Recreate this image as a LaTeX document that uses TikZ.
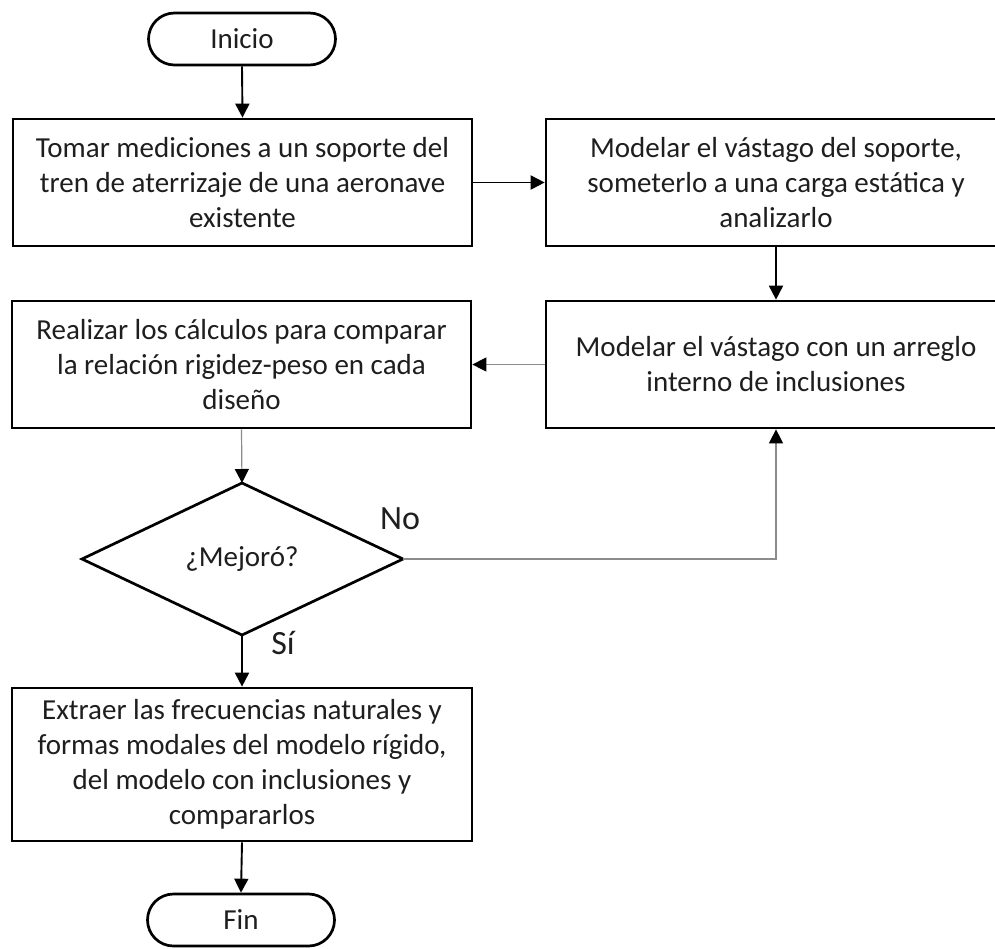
\documentclass[tikz,border=0pt]{standalone}
\usepackage{fontspec}
\setmainfont{Carlito}
\usetikzlibrary{arrows.meta}
\definecolor{txt}{HTML}{1E1E1E}
\definecolor{thin}{HTML}{8C8C8C}
\tikzset{
  base/.style={draw=black, line width=2.7pt, align=center, inner sep=0pt,
    font=\fontsize{29}{35}\selectfont, text=txt},
  procbox/.style={base, rectangle},
  term/.style={base, rectangle, rounded corners=26pt, minimum width=187pt, minimum height=52pt},
  decision/.style={base, fill=white},
  arr/.style={draw=black, line width=1.9pt, -{Triangle[length=14pt,width=14pt]}},
  garr/.style={draw=thin, line width=1.2pt, -{Triangle[length=14pt,width=14pt,color=black]}},
  lbl/.style={font=\fontsize{34}{36}\selectfont, text=txt, inner sep=0pt}
}
\begin{document}
\begin{tikzpicture}[x=1pt,y=-1pt]
\useasboundingbox[fill=white] (0,0) rectangle (995,948);
\clip (0,0) rectangle (995,948);
\node[term] (inicio) at (242,39) {Inicio};
\node[procbox, minimum width=459pt, minimum height=127pt] (b1) at (242.5,182.5)
  {Tomar mediciones a un soporte del\\tren de aterrizaje de una aeronave\\existente};
\node[procbox, minimum width=460pt, minimum height=127pt] (b2) at (776,182.5)
  {Modelar el vástago del soporte,\\someterlo a una carga estática y\\analizarlo};
\node[procbox, minimum width=460pt, minimum height=127pt] (b4) at (776,364.5)
  {Modelar el vástago con un arreglo\\interno de inclusiones};
\node[procbox, minimum width=459pt, minimum height=127pt] (b3) at (241.5,364.5)
  {Realizar los cálculos para comparar\\la relación rigidez-peso en cada\\diseño};
\coordinate (dc) at (242,559);
\path[decision] (242,483) coordinate (dtop) -- (403,559) coordinate (dright)
  -- (242,635) coordinate (dbot) -- (82,559) coordinate (dleft) -- cycle;
\node[base, draw=none] (d) at (dc) {¿Mejoró?};
\node[procbox, minimum width=460pt, minimum height=153pt] (b5) at (242,764.5)
  {Extraer las frecuencias naturales y\\formas modales del modelo rígido,\\del modelo con inclusiones y\\compararlos};
\node[term] (fin) at (241,920) {Fin};
\node[lbl] (no) at (400,519) {No};
\node[lbl] (si) at (283,643) {Sí};
\draw[arr] (inicio.south) -- (b1.north);
\draw[arr] (b1.east) -- (b2.west);
\draw[arr] (b2.south) -- (b4.north);
\draw[garr] (b4.west) -- (b3.east);
\draw[garr] (b3.south) -- (dtop);
\draw[garr] (dright) -| (b4.south);
\draw[arr] (dbot) -- (b5.north);
\draw[arr] (b5.south) -- (fin.north);
\end{tikzpicture}
\end{document}
